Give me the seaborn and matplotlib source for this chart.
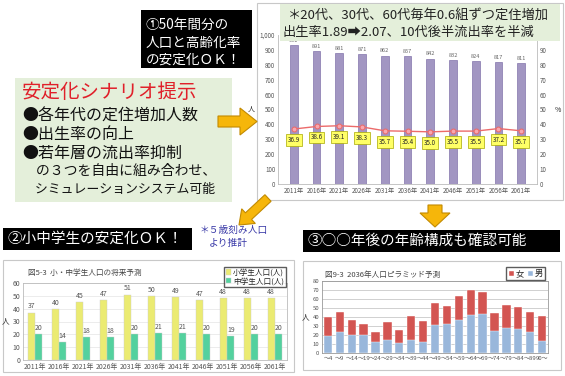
import numpy as np
import pandas as pd
import matplotlib
matplotlib.use("Agg")
import matplotlib.pyplot as plt
from matplotlib.patches import Rectangle, Polygon, FancyArrow
import seaborn as sns

# ---- data ----
years = ["2011年", "2016年", "2021年", "2026年", "2031年", "2036年",
         "2041年", "2046年", "2051年", "2056年", "2061年"]
population = [931, 891, 881, 871, 862, 857, 842, 832, 824, 817, 811]
aging_rate = [36.9, 38.6, 39.1, 38.3, 35.7, 35.4, 35.0, 35.5, 35.5, 37.2, 35.7]

elementary = [37, 40, 45, 47, 51, 50, 49, 47, 48, 48, 48]
junior_high = [20, 14, 18, 18, 20, 21, 21, 20, 19, 20, 20]
school_labels = ["小学生人口(人)", "中学生人口(人)"]

age_groups = ["～4", "～9", "～14", "～19", "～24", "～29", "～34", "～39", "～44",
              "～49", "～54", "～59", "～64", "～69", "～74", "～79", "～84", "～89", "90～"]
male = [19, 23, 20, 20, 12, 14, 11, 14, 12, 31, 32, 37, 42, 43, 24, 28, 27, 23, 13]
female = [21, 23, 17, 12, 11, 20, 15, 27, 24, 25, 20, 26, 28, 25, 21, 25, 24, 23, 28]

sns.set_style("white")
plt.rcParams["font.family"] = ["Noto Sans CJK JP", "DejaVu Sans"]

W, H = 565, 376
fig = plt.figure(figsize=(W / 100, H / 100), dpi=100)
fig.patch.set_facecolor("white")


def box(x0, y0, x1, y1):
    return [x0 / W, 1 - y1 / H, (x1 - x0) / W, (y1 - y0) / H]


# background layer (panels, boxes) in pixel coords
bg = fig.add_axes([0, 0, 1, 1], zorder=-5)
bg.set_xlim(0, W)
bg.set_ylim(H, 0)
bg.axis("off")

# foreground layer (arrows, callouts)
fg = fig.add_axes([0, 0, 1, 1], zorder=5)
fg.set_xlim(0, W)
fg.set_ylim(H, 0)
fg.axis("off")
fg.patch.set_alpha(0)

# chart panels
for x0, y0, x1, y1 in [(257, 3, 563, 200), (3, 260, 294, 372), (303, 261, 561, 370)]:
    bg.add_patch(Rectangle((x0, y0), x1 - x0, y1 - y0, fc="white", ec="#c8c8c8", lw=0.8))

# left scenario box
bg.add_patch(Rectangle((15, 78), 217, 124, fc="#e4efda", ec="none"))
bg.text(22, 93, "安定化シナリオ提示", color="#e0202a", fontsize=14, va="center")
lines = ["●各年代の定住増加人数", "●出生率の向上", "●若年層の流出率抑制",
         "　の３つを自由に組み合わせ、", "　シミュレーションシステム可能"]
sizes = [11.5, 11.5, 11.5, 10, 9.3]
for i, (t, fs) in enumerate(zip(lines, sizes)):
    bg.text(22, 116 + i * 18.5, t, fontsize=fs, va="center", color="#111111")

# black callout boxes
fg.add_patch(Rectangle((141, 10), 111, 58, fc="black", ec="none"))
for i, t in enumerate(["①50年間分の", "人口と高齢化率", "の安定化ＯＫ！"]):
    fg.text(146, 25 + i * 17.5, t, color="white", fontsize=9.8, va="center")

fg.add_patch(Rectangle((3, 228), 189, 22, fc="black", ec="none"))
fg.text(8, 239, "②小中学生の安定化ＯＫ！", color="white", fontsize=10.5, va="center")

fg.add_patch(Rectangle((303, 230), 257, 22, fc="black", ec="none"))
fg.text(308, 241, "③○○年後の年齢構成も確認可能", color="white", fontsize=10.5, va="center")

fg.text(200, 230, "＊５歳刻み人口", color="#3a3aa8", fontsize=7, va="center")
fg.text(209, 243, "より推計", color="#3a3aa8", fontsize=7, va="center")

# top green note
fg.add_patch(Rectangle((280, 4), 280, 37, fc="#e4efda", ec="none"))
fg.text(288, 15, "＊20代、30代、60代毎年0.6組ずつ定住増加", fontsize=9.5, va="center", color="#222222")
fg.text(283, 32, "出生率1.89➡2.07、10代後半流出率を半減", fontsize=9.5, va="center", color="#222222")

# arrows
arrow_kw = dict(fc="#f6b60a", ec="#c28a00", lw=0.8)
fg.add_patch(Polygon([(218, 116), (240, 116), (240, 108), (257, 121.5),
                      (240, 135), (240, 127), (218, 127)], **arrow_kw))
fg.add_patch(Polygon([(428, 205), (442, 205), (442, 213), (450, 213),
                      (435, 227), (420, 213), (428, 213)], **arrow_kw))
fg.add_patch(FancyArrow(268, 198, -29, 27, width=9, head_width=20, head_length=13,
                        length_includes_head=True, **arrow_kw))

tick_kw = dict(labelsize=4.5, colors="#555555", length=0, pad=2)

# ---- chart 1: population and aging rate ----
ax1 = fig.add_axes(box(278, 35, 537, 184))
sns.barplot(x=years, y=population, color="#9f8fc9", edgecolor="#6f5f9f",
            linewidth=0.4, width=0.35, ax=ax1)
ax1.bar_label(ax1.containers[0], fontsize=4, color="#666666", padding=1.5)
ax1.set_ylim(0, 1000)
ax1.set_yticks(range(0, 1001, 100))
ax1.set_yticklabels([f"{v:,}" for v in range(0, 1001, 100)])
ax1.set_ylabel("人", rotation=0, fontsize=5, labelpad=6, va="center")
ax1.tick_params(**tick_kw)
for s in ["top", "right"]:
    ax1.spines[s].set_visible(False)
for s in ["left", "bottom"]:
    ax1.spines[s].set_color("#bbbbbb")
    ax1.spines[s].set_linewidth(0.6)

ax2 = ax1.twinx()
pos = np.arange(len(years))
sns.lineplot(x=pos, y=aging_rate, ax=ax2, color="#ec6b6b", lw=1.0, marker="o",
             markersize=3.5, markerfacecolor="#f7a7b0", markeredgecolor="#ec6b6b")
for i, v in enumerate(aging_rate):
    ax2.annotate(f"{v:.1f}", (i, v), xytext=(0, -5), textcoords="offset points",
                 ha="center", va="top", fontsize=4.5,
                 bbox=dict(boxstyle="square,pad=0.3", fc="#ffff66", ec="#a8a800", lw=0.5))
ax2.set_ylim(0, 100)
ax2.set_yticks(range(0, 101, 10))
ax2.set_ylabel("%", rotation=0, fontsize=5, labelpad=6, va="center")
ax2.tick_params(**tick_kw)
for s in ax2.spines.values():
    s.set_visible(False)
ax2.spines["right"].set_visible(True)
ax2.spines["right"].set_color("#bbbbbb")
ax2.spines["right"].set_linewidth(0.6)

# ---- chart 2: elementary / junior high ----
df2 = pd.DataFrame({
    "year": years * 2,
    "value": elementary + junior_high,
    "kind": [school_labels[0]] * len(years) + [school_labels[1]] * len(years),
})
ax3 = fig.add_axes(box(23, 283, 287, 360))
sns.barplot(data=df2, x="year", y="value", hue="kind",
            palette=["#ffff5e", "#3ee6a2"], width=0.62, edgecolor="#cccccc",
            linewidth=0.3, ax=ax3)
for c in ax3.containers:
    ax3.bar_label(c, fontsize=5, color="#555555", padding=1.5)
ax3.set_ylim(0, 60)
ax3.set_yticks(range(0, 61, 10))
ax3.set_xlabel("")
ax3.set_ylabel("人", rotation=0, fontsize=5.5, labelpad=5, va="center")
ax3.tick_params(labelsize=5, colors="#555555", length=0, pad=2)
ax3.yaxis.grid(True, color="#e4e4e4", lw=0.5)
ax3.set_axisbelow(True)
for s in ax3.spines.values():
    s.set_color("#bbbbbb")
    s.set_linewidth(0.6)
ax3.legend(loc="upper right", bbox_to_anchor=(290 / W, 1 - 263 / H),
           bbox_transform=fig.transFigure, fontsize=5.5, frameon=True,
           fancybox=False, edgecolor="#333333", handlelength=0.7, handleheight=0.7,
           borderpad=0.25, labelspacing=0.1, handletextpad=0.3)
fig.text(28 / W, 1 - 273 / H, "図5-3  小・中学生人口の将来予測", fontsize=5.5,
         color="#444444", va="center")

# ---- chart 3: 2036 population pyramid ----
total = [m + f for m, f in zip(male, female)]
ax4 = fig.add_axes(box(322, 281, 548, 353))
sns.barplot(x=age_groups, y=total, color="#e8403c", width=0.7, ax=ax4,
            edgecolor="white", linewidth=0.3, label="女")
sns.barplot(x=age_groups, y=male, color="#8eb6e6", width=0.7, ax=ax4,
            edgecolor="white", linewidth=0.3, label="男")
ax4.set_ylim(0, 80)
ax4.set_yticks(range(0, 81, 10))
ax4.set_ylabel("人", rotation=0, fontsize=5.5, labelpad=5, va="center")
ax4.tick_params(labelsize=4.3, colors="#555555", length=0, pad=2)
ax4.yaxis.grid(True, color="#bdbdbd", lw=0.5)
ax4.set_axisbelow(True)
for s in ax4.spines.values():
    s.set_color("#999999")
    s.set_linewidth(0.6)
ax4.legend(loc="upper right", bbox_to_anchor=(549 / W, 1 - 263 / H),
           bbox_transform=fig.transFigure, fontsize=6, frameon=True, ncol=2,
           fancybox=False, edgecolor="#333333", handlelength=0.6, handleheight=0.6,
           borderpad=0.25, columnspacing=0.5, handletextpad=0.2)
fig.text(325 / W, 1 - 275 / H, "図9-3  2036年人口ピラミッド予測", fontsize=5.5,
         color="#444444", va="center")

fig.savefig("out.png", dpi=100)
